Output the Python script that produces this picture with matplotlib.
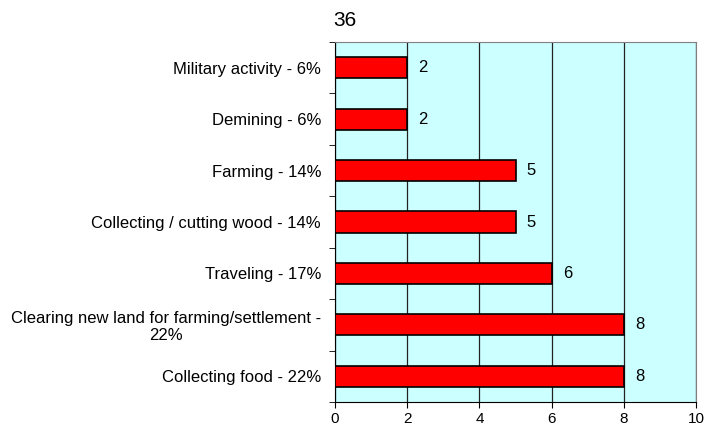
import numpy as np
import matplotlib.pyplot as plt

plt.rcParams['font.family'] = ['Liberation Sans', 'DejaVu Sans']

categories = ['Collecting food - 22%',
              'Clearing new land for farming/settlement -\n22%',
              'Traveling - 17%',
              'Collecting / cutting wood - 14%',
              'Farming - 14%',
              'Demining - 6%',
              'Military activity - 6%']
values = [8, 8, 6, 5, 5, 2, 2]
title = '36'

fig = plt.figure(figsize=(7.09, 4.30), dpi=100)
ax = fig.add_axes([0.4725, 0.0651, 0.5092, 0.8372])
ax.set_facecolor('#CCFFFF')

y = np.arange(len(categories))
ax.barh(y, values, height=0.41, color='#FF0000', edgecolor='black', linewidth=1.2, zorder=3)
for yi, v in zip(y, values):
    ax.annotate(str(v), (v, yi), xytext=(8, 0), textcoords='offset points',
                va='center', ha='left', fontsize=12)

ax.set_xlim(0, 10)
ax.set_ylim(-0.5, len(categories) - 0.5)
ax.set_xticks(range(0, 11, 2))
ax.tick_params(axis='x', labelsize=11, direction='out', length=4)
ax.set_yticks(y)
ax.set_yticklabels(categories, fontsize=12, ha='right', multialignment='center',
                   linespacing=1.1)
ax.tick_params(axis='y', which='major', length=0, pad=10)
ax.set_yticks(np.arange(-0.5, len(categories), 1), minor=True)
ax.tick_params(axis='y', which='minor', length=4, direction='out')
ax.xaxis.grid(True, color='#222222', linewidth=0.9, zorder=1)
ax.set_axisbelow(True)

for s in ['top', 'right']:
    ax.spines[s].set_color('#808080')
for s in ['left', 'bottom']:
    ax.spines[s].set_color('black')

fig.text(333 / 709, 1 - 20.5 / 430, title, ha='left', va='center', fontsize=15)

fig.savefig('out.png', dpi=100)
